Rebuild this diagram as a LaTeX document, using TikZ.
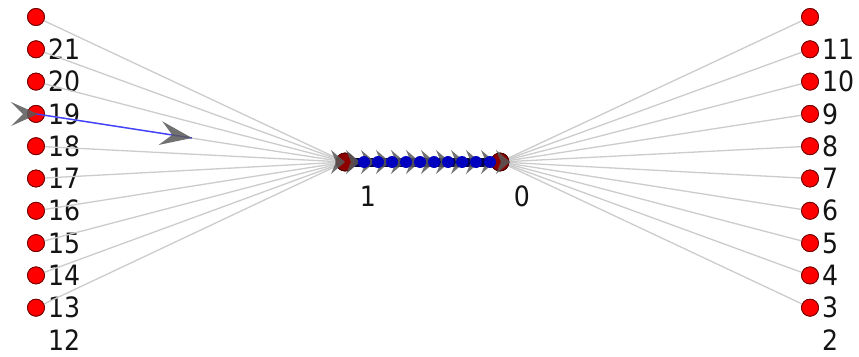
\documentclass[tikz,border=0pt]{standalone}
\usepackage{fontspec}
\setmainfont{DejaVu Sans Condensed}
\tikzset{
  vdot/.style={circle, fill=red, draw=red!45!black, line width=0.8pt, minimum size=17pt, inner sep=0pt},
  hubdot/.style={circle, fill=red!55!black, draw=red!30!black, line width=0.8pt, minimum size=18pt, inner sep=0pt},
  lab/.style={font=\fontsize{28}{28}\selectfont, text=black!92, inner sep=0pt},
  spoke/.style={draw=black!20, line width=1.3pt},
  chain/.style={draw=blue!30!black, line width=9pt},
  bdot/.style={circle, fill=blue!75!black, inner sep=0pt, minimum size=12pt},
  barrow/.style={draw=blue!75!white, line width=1.4pt},
  chev/.pic={\fill[black!65, opacity=0.85] (0,0) -- (-\chevL,\chevW) -- (-\chevI,0) -- (-\chevL,-\chevW) -- cycle;}
}
\newcommand{\chevL}{30}
\newcommand{\chevW}{12}
\newcommand{\chevI}{18}
\begin{document}
\begin{tikzpicture}[x=1pt, y=-1pt]
\useasboundingbox[fill=white] (0,0) rectangle (859,356);
% hubs
\node[hubdot] (n1) at (345,162) {};
\node[hubdot] (n0) at (500,162) {};
% left column
\foreach \i/\t in {0/, 1/21, 2/20, 3/19, 4/18, 5/17, 6/16, 7/15, 8/14, 9/13} {
  \node[vdot] (L\i) at (36,{17+32.3*\i}) {};
  \node[lab, anchor=west] (LL\i) at (48,{17+32.3*\i}) {\t};
}
\node[lab, anchor=west] (LL10) at (48,340) {12};
% right column
\foreach \i/\t in {0/, 1/11, 2/10, 3/9, 4/8, 5/7, 6/6, 7/5, 8/4, 9/3} {
  \node[vdot] (R\i) at (810,{17+32.3*\i}) {};
  \node[lab, anchor=west] (RL\i) at (822,{17+32.3*\i}) {\t};
}
\node[lab, anchor=west] (RL10) at (822,340) {2};
% spokes
\foreach \i in {0,...,9} {
  \draw[spoke] (L\i.center) -- (n1.center);
  \draw[spoke] (R\i.center) -- (n0.center);
}
% redraw dots on top of spokes
\foreach \i in {0,...,9} {
  \node[vdot] at (L\i) {};
  \node[vdot] at (R\i) {};
}
% chain between hubs
\draw[chain] (n1.center) -- (n0.center);
\node[hubdot] at (n1) {};
\node[hubdot] at (n0) {};
\renewcommand{\chevL}{14}
\renewcommand{\chevW}{12}
\renewcommand{\chevI}{9}
\foreach \x in {345,360,...,510} {
  \pic at (\x,162) {chev};
}
\foreach \x in {364,378,...,490} {
  \node[bdot] at (\x,162) {};
}
% blue arrow from 19
\coordinate (tipA) at (192,138);
\draw[barrow] (L3.center) -- (tipA);
\renewcommand{\chevL}{32}
\renewcommand{\chevW}{12}
\renewcommand{\chevI}{20}
\pic[rotate=-8.8] at (tipA) {chev};
\renewcommand{\chevL}{27}
\renewcommand{\chevW}{12}
\renewcommand{\chevI}{15}
\pic at (38,114) {chev};
% hub labels
\node[lab] (h1) at (368,196) {1};
\node[lab] (h0) at (522,196) {0};
\end{tikzpicture}
\end{document}
